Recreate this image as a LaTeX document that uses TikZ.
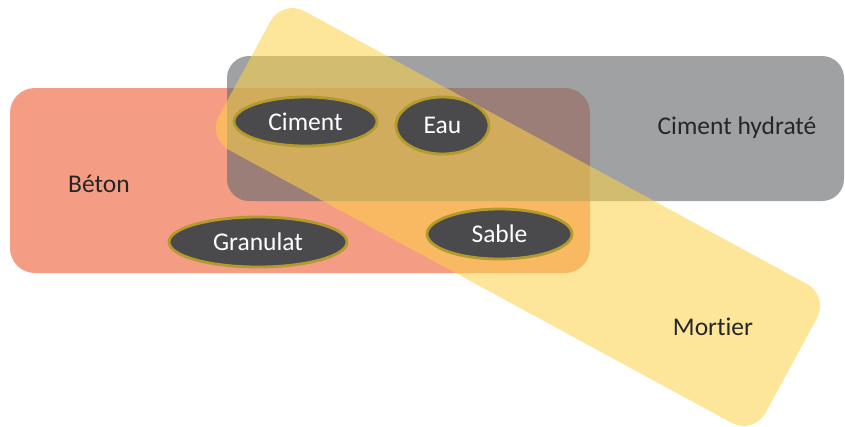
\documentclass[tikz,border=0pt]{standalone}
\usepackage{fontspec}
\setmainfont{Carlito}[RawFeature=-liga]
\usetikzlibrary{shapes.geometric}
\definecolor{betonred}{HTML}{F59C85}
\definecolor{cimgray}{HTML}{6D6E72}
\definecolor{mortyellow}{HTML}{FBD246}
\definecolor{elfill}{HTML}{4A4A4D}
\definecolor{elborder}{HTML}{B39A2C}
\definecolor{labeltext}{HTML}{262626}
\begin{document}
\begin{tikzpicture}[x=1pt,y=-1pt,
    zone/.style={rectangle,inner sep=0pt},
    comp/.style={ellipse,draw=elborder,line width=2.8pt,fill=elfill,text=white,inner sep=0pt},
    zonelabel/.style={text=labeltext,inner sep=0pt}]
    \useasboundingbox (0,0) rectangle (845,426);
    \fontsize{25.5}{30}\selectfont

    % the three sets
    \node[zone,fill=betonred,rounded corners=25pt,minimum width=580pt,minimum height=185pt] (beton) at (300,180.5) {};
    \node[zone,fill=cimgray,fill opacity=0.65,rounded corners=22pt,minimum width=617pt,minimum height=145pt] (hydrate) at (535.5,128.5) {};
    \node[zone,fill=mortyellow,fill opacity=0.55,rounded corners=25pt,minimum width=622pt,minimum height=158pt,rotate=-28.5] (mortier) at (518,217) {};

    \node[zonelabel] (betonlbl) at (99,184) {Béton};
    \node[zonelabel] (hydratelbl) at (737,128) {Ciment hydraté};
    \node[zonelabel] (mortierlbl) at (713,327) {Mortier};

    % the components
    \node[comp,minimum width=143pt,minimum height=49pt] (ciment) at (305.5,121.5) {Ciment};
    \node[comp,minimum width=93pt,minimum height=57pt] (eau) at (442.5,125.5) {Eau};
    \node[comp,minimum width=178pt,minimum height=50pt] (granulat) at (258,242) {Granulat};
    \node[comp,minimum width=145pt,minimum height=50pt] (sable) at (499.5,234) {Sable};
\end{tikzpicture}
\end{document}
